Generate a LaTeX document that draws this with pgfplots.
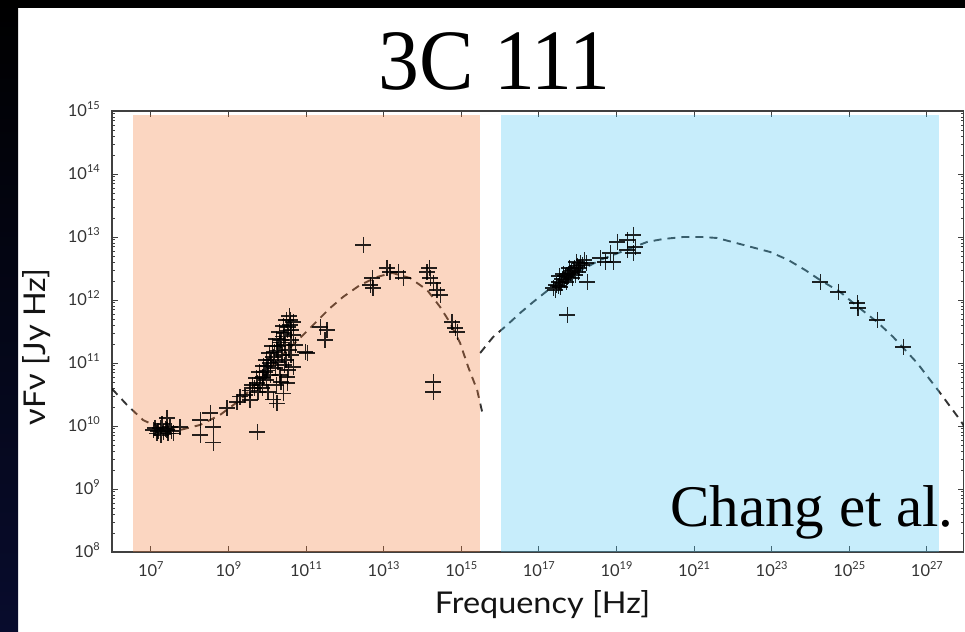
\documentclass[border=0pt]{standalone}
\usepackage{fontspec}
\setmainfont{Liberation Serif}
\newfontfamily\lato{Lato}
\newfontfamily\latow[FakeStretch=1.08]{Lato}
\newfontfamily\titlefont[FakeStretch=0.95]{Liberation Serif}
\usepackage{pgfplots}
\pgfplotsset{compat=1.18}
\definecolor{salmonov}{RGB}{245,121,52}
\definecolor{blueov}{RGB}{72,198,245}
\definecolor{navy}{RGB}{8,12,45}
\newcommand{\tl}[1]{10\raisebox{0.45em}{\fontsize{11}{12}\selectfont #1}}

\begin{document}
\begin{tikzpicture}
\useasboundingbox (0pt,0pt) rectangle (965pt,631pt);
\fill[white] (0pt,0pt) rectangle (965pt,631pt);
\shade[top color=black, bottom color=navy] (0pt,0pt) rectangle (18pt,631pt);
\fill[black] (0pt,623pt) rectangle (965pt,631pt);
\begin{axis}[
  at={(112pt,79pt)}, anchor=south west,
  scale only axis, width=851.7pt, height=441pt,
  xmode=log, ymode=log,
  xmin=1e6, xmax=8.9e27, ymin=1e8, ymax=1e15,
  xtick={1e7,1e9,1e11,1e13,1e15,1e17,1e19,1e21,1e23,1e25,1e27},
  xticklabels={\tl{7},\tl{9},\tl{11},\tl{13},\tl{15},\tl{17},\tl{19},\tl{21},\tl{23},\tl{25},\tl{27}},
  ytick={1e8,1e9,1e10,1e11,1e12,1e13,1e14,1e15},
  yticklabels={\tl{8},\tl{9},\tl{10},\tl{11},\tl{12},\tl{13},\tl{14},\tl{15}},
  minor ytick={2e8,3e8,4e8,5e8,6e8,7e8,8e8,9e8,2e9,3e9,4e9,5e9,6e9,7e9,8e9,9e9,2e10,3e10,4e10,5e10,6e10,7e10,8e10,9e10,2e11,3e11,4e11,5e11,6e11,7e11,8e11,9e11,2e12,3e12,4e12,5e12,6e12,7e12,8e12,9e12,2e13,3e13,4e13,5e13,6e13,7e13,8e13,9e13,2e14,3e14,4e14,5e14,6e14,7e14,8e14,9e14},
  tick align=inside,
  major tick length=6pt, minor tick length=3pt,
  every tick/.style={black!75, line width=0.8pt},
  axis line style={black!75, line width=1.3pt},
  tick label style={font=\lato\fontsize{16.5}{18}\selectfont, text=black!80},
  xticklabel style={anchor=base, inner sep=0pt, yshift=-25pt},
  yticklabel style={anchor=base east, inner sep=0pt, xshift=-12pt, yshift=-6pt},
]
% synchrotron component model
\addplot[black, opacity=0.8, line width=1.9pt, dash pattern=on 8pt off 6pt, line join=round] coordinates {
(1e6,3.89e10) (2.45e6,2.15e10) (6.34e6,1.24e10) (1.74e7,9.29e9) (5.69e7,8.65e9)
(1.87e8,1.04e10) (6.11e8,1.5e10) (2.0e9,2.59e10) (6.56e9,5.37e10) (2.15e10,1.24e11)
(8.41e10,2.78e11) (4.18e11,7.46e11) (9.04e11,1.12e12) (2.48e12,1.73e12) (6.79e12,2.32e12)
(1.66e13,2.69e12) (4.82e13,2.23e12) (1.32e14,1.44e12) (2.86e14,7.74e11) (5.18e14,4.32e11)
(9.38e14,2.07e11) (1.51e15,8.65e10) (2.57e15,3.72e10) (3.46e15,1.67e10)};
% inverse Compton component model
\addplot[black, opacity=0.8, line width=1.9pt, dash pattern=on 8pt off 6pt, line join=round] coordinates {
(3.07e15,1.44e11) (6.64e15,2.59e11) (1.52e16,4.01e11) (3.30e16,6.22e11) (7.13e16,9.29e11)
(1.74e17,1.44e12) (6.41e17,2.40e12) (3.80e18,4.32e12) (6.18e19,8.34e12) (1.60e20,9.29e12)
(5.24e20,1.0e13) (1.62e21,1.0e13) (3.94e21,9.64e12) (9.14e22,5.78e12) (2.66e23,4.32e12)
(7.29e23,2.99e12) (1.78e24,2.07e12) (5.82e24,1.34e12) (1.69e25,7.74e11) (5.24e25,4.48e11)
(1.35e26,2.59e11) (5.62e26,1.0e11) (2.20e27,3.34e10) (7.21e27,1.24e10) (1e28,9.1e9)};
% data points
\addplot[only marks, mark=+, mark size=8pt, black, mark options={line width=1.25pt, opacity=0.85}] table {
x y
1.15e7 8.6e9
1.45e7 7.7e9
1.74e7 9.3e9
2.08e7 8.0e9
2.63e7 8.6e9
3.14e7 9.6e9
3.76e7 7.7e9
2.63e7 1.34e10
1.29e7 9.3e9
1.54e7 8.3e9
1.84e7 7.2e9
2.34e7 8.95e9
2.79e7 7.7e9
3.34e7 8.3e9
1.95e7 1.08e10
5.69e7 9.6e9
1.87e8 1.24e10
1.87e8 7.2e9
4.04e8 9.6e9
4.04e8 5.4e9
3.38e8 1.61e10
9.25e8 1.93e10
1.67e9 2.4e10
2.0e9 2.9e10
5.5e9 8.0e9
3.6e9 3.7e10
5.5e9 4.8e10
7.8e9 6.0e10
9.9e9 7.7e10
1.19e10 1.0e11
1.42e10 1.25e11
1.8e10 1.6e11
2.15e10 2.1e11
2.57e10 2.6e11
3.26e10 3.3e11
3.9e10 4.0e11
3.9e10 4.8e11
1.42e10 2.6e10
1.8e10 2.3e10
2.57e10 3.3e10
3.26e10 6.0e10
4.66e10 8.6e10
1.07e11 1.44e11
3.26e10 4.8e10
6.56e9 4.48e10
7.4e9 5.78e10
8.8e9 7.2e10
1.05e10 8.95e10
1.26e10 1.12e11
1.51e10 1.5e11
1.91e10 1.86e11
2.28e10 2.32e11
2.73e10 2.99e11
3.46e10 3.72e11
4.13e10 3.34e11
2.89e10 1.93e11
2.42e10 1.34e11
1.91e10 1.04e11
1.6e10 8.34e10
1.19e10 6.46e10
9.4e9 5.37e10
7.4e9 4.0e10
4.6e9 4.0e10
5.8e9 3.47e10
2.15e10 6.46e10
2.73e10 9.3e10
3.66e10 1.61e11
4.13e10 2.32e11
3.07e10 1.12e11
3.62e9 2.59e10
2.69e9 3.1e10
4.13e9 4.48e10
5.24e9 5.78e10
6.25e9 7.2e10
7.93e9 8.95e10
9.48e9 1.12e11
1.13e10 1.44e11
1.35e10 1.86e11
1.71e10 2.4e11
2.05e10 3.1e11
2.6e10 3.86e11
3.1e10 4.82e11
3.72e10 5.57e11
4.66e10 4.48e11
4.66e10 2.78e11
5.24e10 1.93e11
4.13e10 1.34e11
3.46e10 7.74e10
1.71e10 4.48e10
1.05e10 3.47e10
2.28e10 4.99e10
2.31e11 3.73e11
3.49e11 3.34e11
3.1e11 2.32e11
9.5e10 1.5e11
2.97e12 7.47e12
4.49e12 1.73e12
5.36e12 1.55e12
5.06e12 2.23e12
1.23e13 3.22e12
1.47e13 2.78e12
2.37e13 2.78e12
3.18e13 2.23e12
1.32e14 2.78e12
1.58e14 2.23e12
1.89e14 1.86e12
2.39e14 1.44e12
2.86e14 1.2e12
1.49e14 3.22e12
5.82e14 4.48e11
6.96e14 3.6e11
7.84e14 3.1e11
1.89e14 4.99e10
1.89e14 3.47e10
2.34e17 1.55e12
2.79e17 1.73e12
3.34e17 1.93e12
3.99e17 2.15e12
4.77e17 2.4e12
5.69e17 2.59e12
6.81e17 2.88e12
8.13e17 3.22e12
9.7e17 3.47e12
1.16e18 3.87e12
1.47e18 4.31e12
3.54e17 1.61e12
5.06e17 1.93e12
7.21e17 2.23e12
1.03e18 2.78e12
4.23e17 2.59e12
6.04e17 3.22e12
9.16e17 4.01e12
2.63e17 1.44e12
3.14e17 1.67e12
3.76e17 1.86e12
4.49e17 2.08e12
5.37e17 2.32e12
6.41e17 2.69e12
7.66e17 2.99e12
8.63e17 2.49e12
1.09e18 3.22e12
1.31e18 3.6e12
1.66e18 3.86e12
3.34e17 2.4e12
5.37e17 5.78e11
1.76e18 1.93e12
3.81e18 4.65e12
6.9e18 5.57e12
8.25e18 4.01e12
1.05e19 8.34e12
1.89e19 8.96e12
1.89e19 6.22e12
2.7e19 1.08e13
3.04e19 6.94e12
2.7e19 5.57e12
5.13e18 4.01e12
1.78e24 1.93e12
5.18e24 1.34e12
1.69e25 7.47e11
1.6e25 8.95e11
5.24e25 4.82e11
2.45e26 1.8e11
};
% shaded bands
\addplot[draw=none, fill=salmonov, fill opacity=0.3, forget plot] coordinates {(3.47e6,1e8) (3.09e15,1e8) (3.09e15,8.7e14) (3.47e6,8.7e14)} -- cycle;
\addplot[draw=none, fill=blueov, fill opacity=0.3, forget plot] coordinates {(1.07e16,1e8) (2.0e27,1e8) (2.0e27,8.7e14) (1.07e16,8.7e14)} -- cycle;
\end{axis}
\node[anchor=base, inner sep=0pt, font=\titlefont\fontsize{86}{90}\selectfont] at (494.5pt,541pt) {3C 111};
\node[anchor=base west, inner sep=0pt, font=\fontsize{59}{62}\selectfont] at (670pt,104pt) {Chang et al.};
\node[anchor=base, inner sep=0pt, text=black!92, font=\latow\fontsize{30}{32}\selectfont] at (542.5pt,18pt) {Frequency [Hz]};
\node[anchor=base, inner sep=0pt, rotate=90, text=black!92, font=\latow\fontsize{30}{32}\selectfont] at (45pt,284pt) {νFν [Jy Hz]};
\end{tikzpicture}
\end{document}
